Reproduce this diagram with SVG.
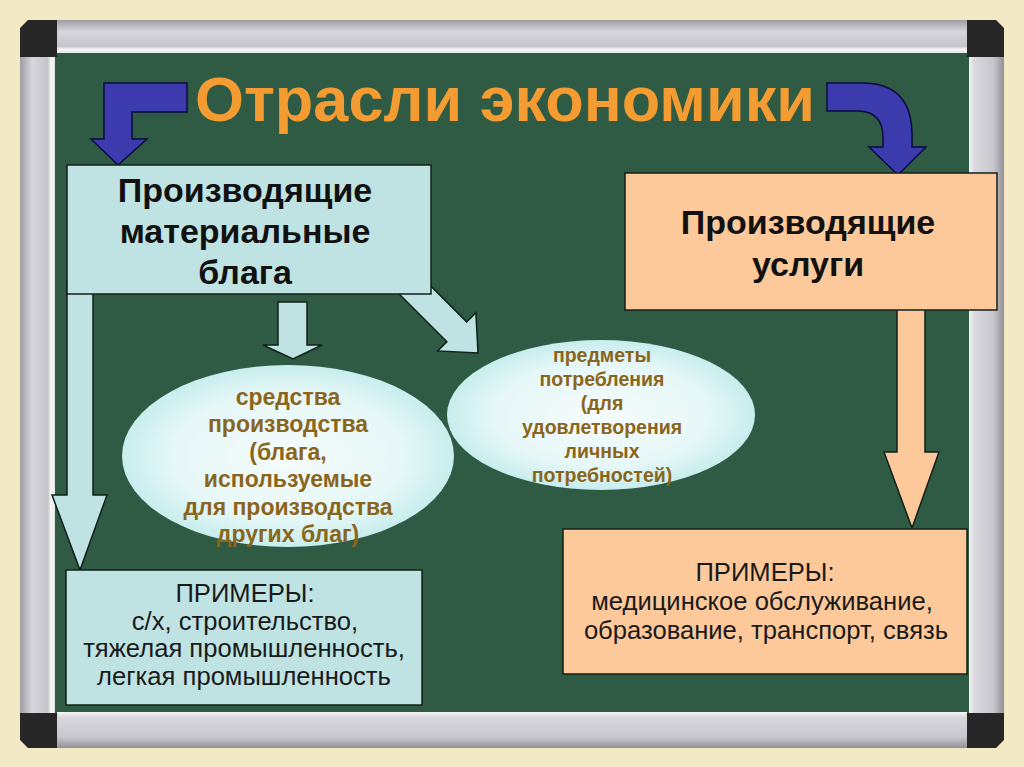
<svg xmlns="http://www.w3.org/2000/svg" width="1024" height="767" viewBox="0 0 1024 767">
<defs>
<style>
.frameCorner{fill:#262626}
.blue{fill:#3b3bae;stroke:#0b0b3c;stroke-width:1.5}
.cyanArrow{fill:#bfe3e3;stroke:#10201a;stroke-width:1.5}
.peachArrow{fill:#fdc99a;stroke:#10201a;stroke-width:1.5}
.cyanBox{fill:#bfe3e3;stroke:#10201a;stroke-width:1.5}
.peachBox{fill:#fdc99a;stroke:#10201a;stroke-width:1.5}
.title{font-family:"Liberation Sans",Arial,sans-serif;font-weight:bold;font-size:63px;fill:#f49b32;text-anchor:middle}
.head{font-family:"Liberation Sans",Arial,sans-serif;font-weight:bold;font-size:34px;fill:#111;text-anchor:middle}
.ell{font-family:"Liberation Sans",Arial,sans-serif;font-weight:bold;fill:#8a651c;text-anchor:middle}
.ex{font-family:"Liberation Sans",Arial,sans-serif;font-size:25.6px;fill:#1a1a1a;text-anchor:middle}
</style>
<linearGradient id="railH" x1="0" y1="0" x2="0" y2="1">
<stop offset="0" stop-color="#9c9ca2"/>
<stop offset="0.35" stop-color="#d6d6dc"/>
<stop offset="0.8" stop-color="#c4c4ca"/>
<stop offset="0.88" stop-color="#f6f6f6"/>
<stop offset="1" stop-color="#e8e8e8"/>
</linearGradient>
<linearGradient id="railHb" x1="0" y1="0" x2="0" y2="1">
<stop offset="0" stop-color="#f4f4f4"/>
<stop offset="0.15" stop-color="#d8d8de"/>
<stop offset="0.7" stop-color="#c6c6cc"/>
<stop offset="1" stop-color="#909096"/>
</linearGradient>
<linearGradient id="railV" x1="0" y1="0" x2="1" y2="0">
<stop offset="0" stop-color="#9c9ca2"/>
<stop offset="0.35" stop-color="#d6d6dc"/>
<stop offset="0.8" stop-color="#c4c4ca"/>
<stop offset="0.88" stop-color="#f6f6f6"/>
<stop offset="1" stop-color="#e8e8e8"/>
</linearGradient>
<linearGradient id="railVr" x1="0" y1="0" x2="1" y2="0">
<stop offset="0" stop-color="#f4f4f4"/>
<stop offset="0.15" stop-color="#d8d8de"/>
<stop offset="0.7" stop-color="#c6c6cc"/>
<stop offset="1" stop-color="#909096"/>
</linearGradient>
<radialGradient id="ellG" cx="0.5" cy="0.5" r="0.5">
<stop offset="0" stop-color="#f6fcfc"/>
<stop offset="0.7" stop-color="#e6f7f7"/>
<stop offset="1" stop-color="#c8eded"/>
</radialGradient>
</defs>

<rect x="0" y="0" width="1024" height="767" fill="#f3e8c4"/>

<g id="board">
<rect x="52" y="50" width="920" height="665" fill="#2f5b45"/>
<rect x="57" y="20" width="910" height="33" fill="url(#railH)"/>
<rect x="57" y="712" width="910" height="36" fill="url(#railHb)"/>
<rect x="20" y="57" width="35" height="656" fill="url(#railV)"/>
<rect x="969" y="57" width="35" height="656" fill="url(#railVr)"/>
<path class="frameCorner" d="M28,20 L57,20 L57,57 L20,57 L20,28 Z"/>
<path class="frameCorner" d="M967,20 L996,20 L1004,28 L1004,57 L967,57 Z"/>
<path class="frameCorner" d="M20,713 L57,713 L57,748 L28,748 L20,740 Z"/>
<path class="frameCorner" d="M967,713 L1004,713 L1004,740 L996,748 L967,748 Z"/>
</g>

<text class="title" x="505" y="121">Отрасли экономики</text>

<g id="connectors">
<path class="blue" d="M187,83 L104,83 L104,139 L91,139 L118,165 L147,139 L132,139 L132,112 L187,112 Z"/>
<path class="blue" d="M827,83 L862,83 Q912,83 912,135 L912,147 L926,147 L898,175 L869,147 L883,147 L883,138 Q883,111 858,111 L827,111 Z"/>
<path class="cyanArrow" d="M67,280 L93,280 L93,495 L107,495 L80,570 L52,495 L67,495 Z"/>
<path class="cyanArrow" d="M278,302 L307,302 L307,345 L322,345 L293,359 L263,345 L278,345 Z"/>
<path class="cyanArrow" transform="translate(478,353) rotate(45)" d="M0,0 L-30,-27 L-30,-14 L-100,-14 L-100,14 L-30,14 L-30,27 Z"/>
<path class="peachArrow" d="M897,300 L925,300 L925,452 L939,452 L912,528 L884,452 L897,452 Z"/>
</g>

<g id="box-material">
<rect class="cyanBox" x="67" y="165" width="364" height="129"/>
<text class="head" x="245" y="202">Производящие</text>
<text class="head" x="245" y="243">материальные</text>
<text class="head" x="245" y="284">блага</text>
</g>

<g id="box-services">
<rect class="peachBox" x="625" y="173" width="372" height="137"/>
<text class="head" x="808" y="234">Производящие</text>
<text class="head" x="808" y="276">услуги</text>
</g>

<g id="ellipse-means">
<ellipse cx="288" cy="456" rx="166" ry="91" fill="url(#ellG)"/>
<text class="ell" font-size="23" x="288" y="405">средства</text>
<text class="ell" font-size="23" x="288" y="432">производства</text>
<text class="ell" font-size="23" x="288" y="460">(блага,</text>
<text class="ell" font-size="23" x="288" y="487">используемые</text>
<text class="ell" font-size="23" x="288" y="515">для производства</text>
<text class="ell" font-size="23" x="288" y="542">других благ)</text>
</g>

<g id="ellipse-consumer">
<ellipse cx="601" cy="415" rx="154" ry="75" fill="url(#ellG)"/>
<text class="ell" font-size="19.5" x="602" y="362">предметы</text>
<text class="ell" font-size="19.5" x="602" y="386">потребления</text>
<text class="ell" font-size="19.5" x="602" y="410">(для</text>
<text class="ell" font-size="19.5" x="602" y="434">удовлетворения</text>
<text class="ell" font-size="19.5" x="602" y="458">личных</text>
<text class="ell" font-size="19.5" x="602" y="482">потребностей)</text>
</g>

<g id="box-examples-material">
<rect class="cyanBox" x="66" y="570" width="356" height="135"/>
<text class="ex" x="245" y="602">ПРИМЕРЫ:</text>
<text class="ex" x="245" y="630">с/х, строительство,</text>
<text class="ex" x="244" y="657">тяжелая промышленность,</text>
<text class="ex" x="244" y="685">легкая промышленность</text>
</g>

<g id="box-examples-services">
<rect class="peachBox" x="563" y="529" width="404" height="145"/>
<text class="ex" x="765" y="581">ПРИМЕРЫ:</text>
<text class="ex" x="762" y="610">медицинское обслуживание,</text>
<text class="ex" x="766" y="639">образование, транспорт, связь</text>
</g>
</svg>
